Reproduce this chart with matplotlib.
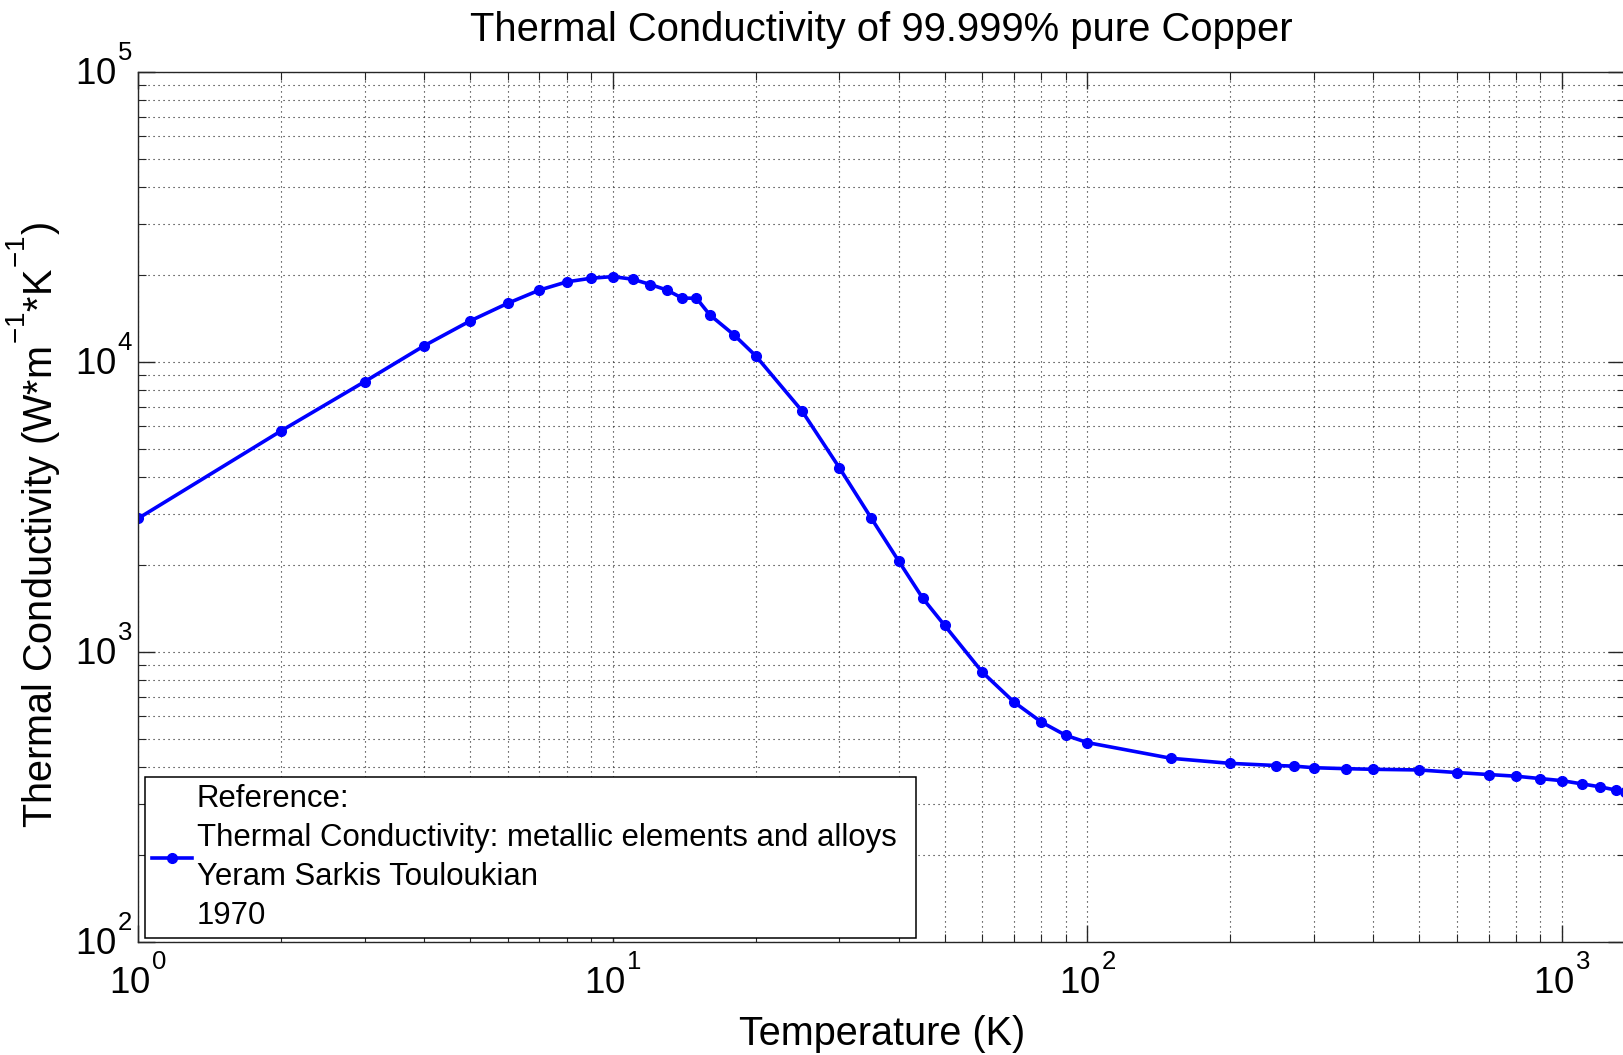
import matplotlib
matplotlib.use("Agg")
import matplotlib.pyplot as plt
from matplotlib.ticker import LogLocator, NullFormatter
from matplotlib.transforms import ScaledTranslation

plt.rcParams['font.family'] = ['Liberation Sans', 'DejaVu Sans']
plt.rcParams['mathtext.default'] = 'regular'
plt.rcParams['axes.unicode_minus'] = False

# raise superscripts (MATLAB-style exponent placement)
try:
    import matplotlib._mathtext as _mt
    _mt.FontConstantsBase.sup1 = 1.22
    _mt.FontConstantsBase.delta = 0.12
except Exception:
    pass

temperature_K = [1, 2, 3, 4, 5, 6, 7, 8, 9, 10, 11, 12, 13, 14, 15, 16, 18, 20,
                 25, 30, 35, 40, 45, 50, 60, 70, 80, 90, 100, 150, 200, 250,
                 273, 300, 350, 400, 500, 600, 700, 800, 900, 1000, 1100, 1200,
                 1300, 1357]
conductivity = [2890, 5790, 8560, 11370, 13850, 15930, 17700, 18900, 19450,
                19700, 19300, 18500, 17700, 16600, 16600, 14540, 12400, 10500,
                6800, 4320, 2900, 2060, 1530, 1235, 853, 672, 573, 516, 487,
                430, 413, 406, 404, 399, 396, 394, 392, 384, 378, 373, 366,
                360, 351, 343, 334, 328]

title = "Thermal Conductivity of 99.999% pure Copper"
xlabel = "Temperature (K)"
ylabel = "Thermal Conductivity (W*m$^{-1}$*K$^{-1}$)"
legend_label = ("Reference:\nThermal Conductivity: metallic elements and alloys\n"
                "Yeram Sarkis Touloukian\n1970")

W, H = 1624, 1055
fig = plt.figure(figsize=(W / 100, H / 100), dpi=100)
ax_l, ax_r, ax_t, ax_b = 138.3, 1625, 72, 942
ax = fig.add_axes([ax_l / W, 1 - ax_b / H, (ax_r - ax_l) / W, (ax_b - ax_t) / H])

ax.plot(temperature_K, conductivity, color='#0000ff', linewidth=2.6,
        marker='.', markersize=14, label=legend_label)
ax.set_xscale('log')
ax.set_yscale('log')
ax.set_xlim(1, 1357)
ax.set_ylim(1e2, 1e5)

ax.xaxis.set_major_locator(LogLocator(base=10, numticks=10))
ax.xaxis.set_minor_locator(LogLocator(base=10, subs=range(2, 10), numticks=20))
ax.yaxis.set_major_locator(LogLocator(base=10, numticks=10))
ax.yaxis.set_minor_locator(LogLocator(base=10, subs=range(2, 10), numticks=20))
ax.xaxis.set_minor_formatter(NullFormatter())
ax.yaxis.set_minor_formatter(NullFormatter())

grid_style = dict(color='0.1', linestyle=(0, (1, 3.5)), linewidth=0.8)
ax.grid(True, which='major', **grid_style)
ax.grid(True, which='minor', **grid_style)
ax.set_axisbelow(True)

for s in ax.spines.values():
    s.set_color('0.15')
    s.set_linewidth(1.0)

TICK_FS = 26.5
ax.tick_params(which='both', direction='in', top=True, right=True,
               colors='0.15', labelcolor='black', labelsize=TICK_FS)
ax.tick_params(which='major', length=12, width=1.0)
ax.tick_params(which='minor', length=6, width=0.8)
ax.tick_params(axis='x', which='major', pad=10)
ax.tick_params(axis='y', which='major', pad=4)

ax.set_title(title, fontsize=28.8, pad=22)
ax.set_xlabel(xlabel, fontsize=28.5)
ax.set_ylabel(ylabel, fontsize=28.5)
ax.xaxis.set_label_coords(0.5, (ax_b - 1015) / (ax_b - ax_t))
ax.yaxis.set_label_coords((63 - ax_l) / (ax_r - ax_l), (ax_b - 525) / (ax_b - ax_t))

leg_l, leg_r, leg_t, leg_b = 145, 916, 777, 938
leg = ax.legend(loc='lower left',
                bbox_to_anchor=(leg_l / W, 1 - leg_b / H, (leg_r - leg_l) / W, (leg_b - leg_t) / H),
                bbox_transform=fig.transFigure, borderaxespad=0, mode='expand',
                fontsize=22.4, frameon=True, fancybox=False, framealpha=1,
                edgecolor='black', handlelength=1.29, handletextpad=0.16,
                borderpad=0.22)
leg.get_frame().set_linewidth(1.1)
for t in leg.get_texts():
    t.set_linespacing(1.39)

# center the "10" of y tick labels on the tick (superscript sits above)
fig.canvas.draw()
for lbl in ax.get_yticklabels():
    lbl.set_va('baseline')
    lbl.set_transform(lbl.get_transform() +
                      ScaledTranslation(0, -0.358 * TICK_FS / 72, fig.dpi_scale_trans))

fig.savefig("out.png", dpi=100)
